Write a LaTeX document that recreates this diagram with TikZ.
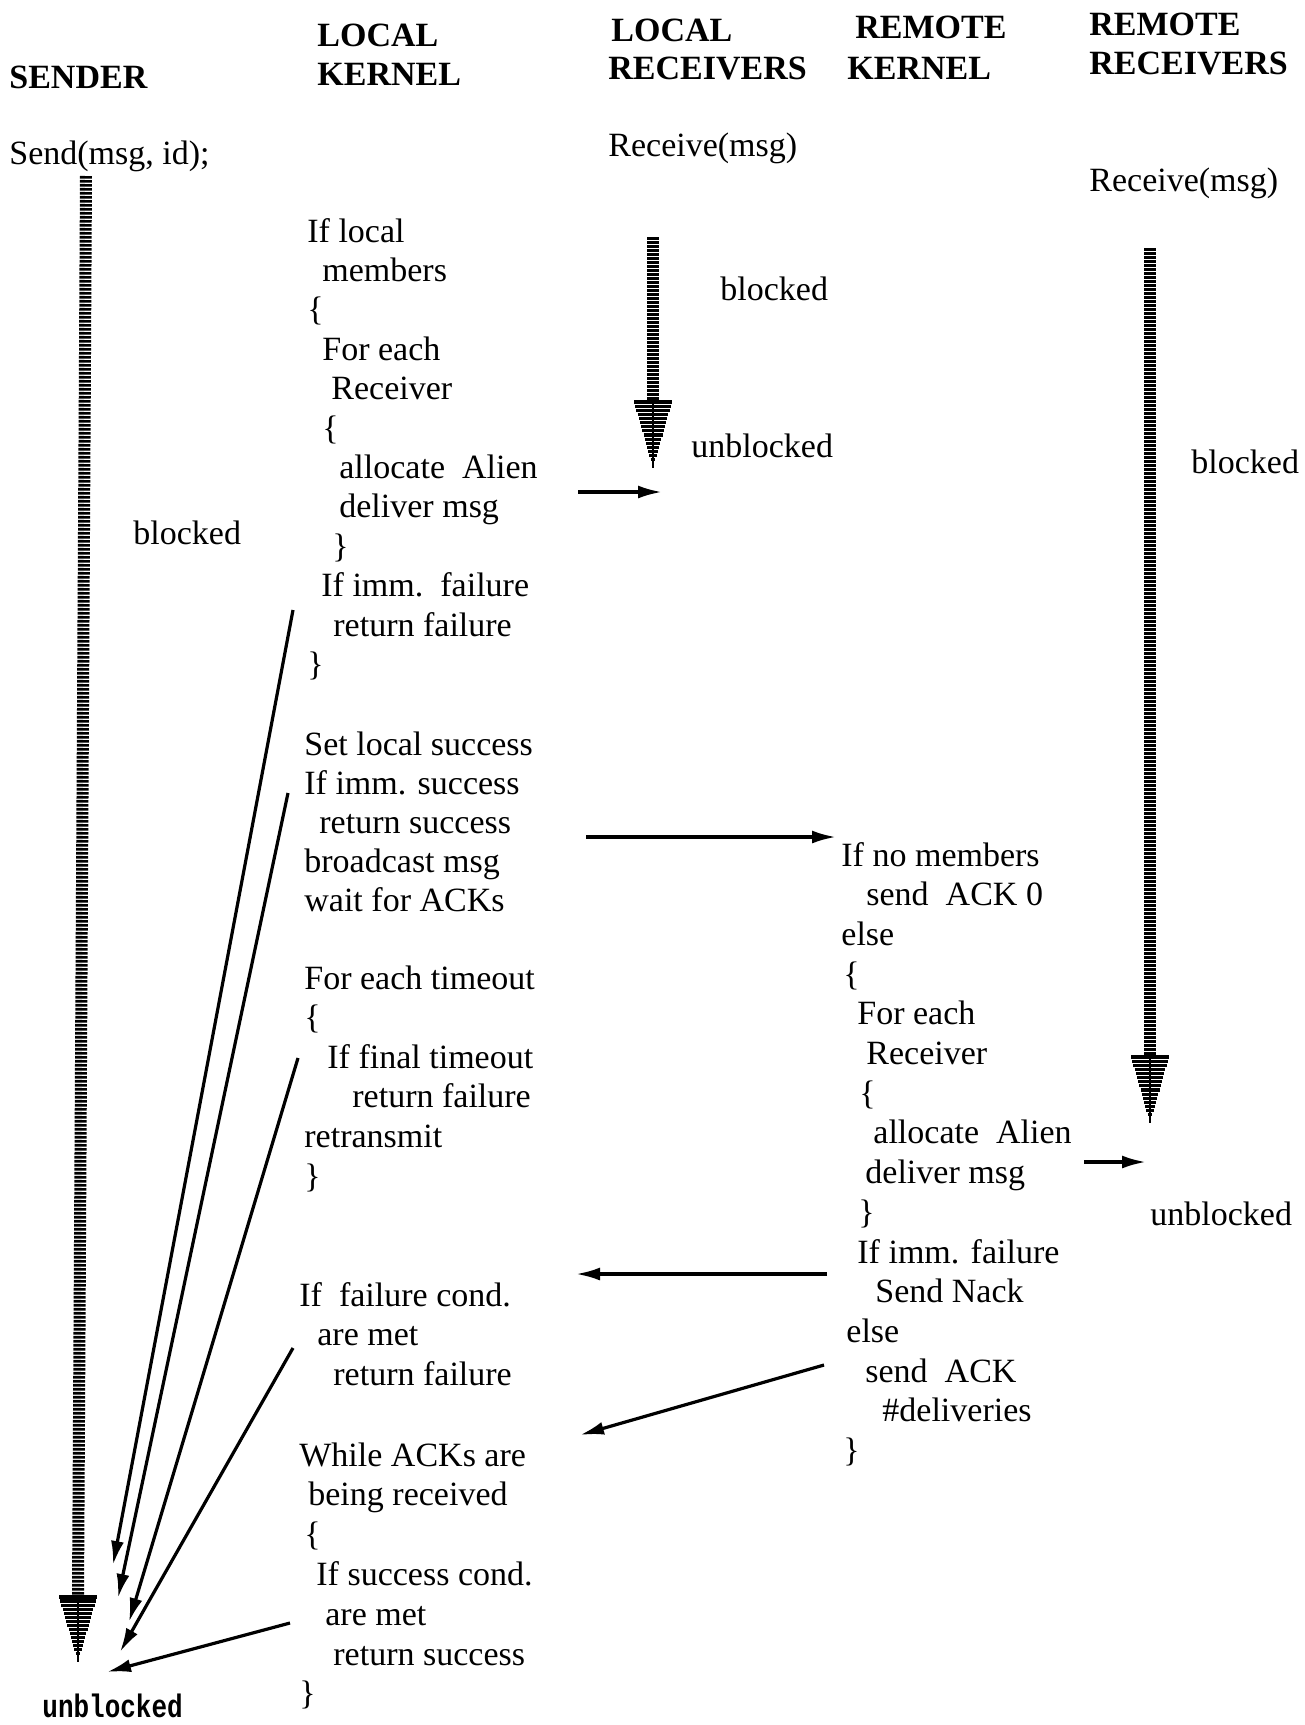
\documentclass[tikz,border=0pt]{standalone}
\usepackage{fontspec}
\setmainfont{Liberation Serif}
\newfontfamily\monob{Liberation Mono}
\usetikzlibrary{arrows.meta}
\newcommand\hatchhead[3]{% x, ytop, ytip
  \foreach \k in {0,...,15}{%
    \pgfmathsetmacro\hw{19*(1-\k/16)}%
    \draw[line width=1.6pt] ({#1-\hw},{#2+\k*(#3-#2)/16}) -- ({#1+\hw},{#2+\k*(#3-#2)/16});}%
  \draw[line width=1pt] (#1,#2) -- (#1,#3);}
\begin{document}
\begin{tikzpicture}[x=0.5pt,y=-0.5pt,
  txt/.style={anchor=base west,inner sep=0pt,font=\fontsize{17pt}{20pt}\selectfont},
  hdr/.style={anchor=base west,inner sep=0pt,font=\fontsize{17pt}{20pt}\selectfont\bfseries},
  mono/.style={anchor=base west,inner sep=0pt,font=\fontsize{13pt}{15pt}\monob\bfseries},
  flow/.style={line width=1.6pt,-{Latex[length=12pt,width=6.5pt]}},
  hatchshaft/.style={line width=6pt,dash pattern=on 1.3pt off 0.7pt},
]
\useasboundingbox (0,0) rectangle (1305,1725);

% headers
\node[hdr] (hS) at (9,88) {SENDER};
\node[hdr] (hLKa) at (317,46) {LOCAL};
\node[hdr] (hLKb) at (317,85) {KERNEL};
\node[hdr] (hLRa) at (611,41) {LOCAL};
\node[hdr] (hLRb) at (608,79) {RECEIVERS};
\node[hdr] (hRKa) at (855,38) {REMOTE};
\node[hdr] (hRKb) at (847,79) {KERNEL};
\node[hdr] (hRRa) at (1089,35) {REMOTE};
\node[hdr] (hRRb) at (1089,74) {RECEIVERS};

% top calls
\node[txt] (send) at (9,164) {Send(msg, id);};
\node[txt] (recvL) at (608,156) {Receive(msg)};
\node[txt] (recvR) at (1089,191) {Receive(msg)};

% state labels
\node[txt] (blkL) at (720,300) {blocked};
\node[txt] (ublkL) at (691,457) {unblocked};
\node[txt] (blkS) at (133,544) {blocked};
\node[txt] (blkR) at (1191,473) {blocked};
\node[txt] (ublkR) at (1150,1225) {unblocked};
\node[mono] (ublkS) at (42,1717) {\scalebox{1}[1.25]{unblocked}};

% local kernel block 1
\foreach \xx/\tt [count=\i from 0] in {307/If local, 322/members, 307/\{, 322/For each,
  331/Receiver, 322/\{, 339/allocate\ \ Alien, 339/deliver msg, 332/\}, 321/If imm.\ \ failure,
  333/return failure, 307/\}}
  \node[txt] (lka-\i) at ({\xx},{242+\i*39.4}) {\tt};

% local kernel block 2
\foreach \xx/\tt [count=\i from 0] in {304/Set local success, 304/If imm. success,
  319/return success, 304/broadcast msg, 304/wait for ACKs}
  \node[txt] (lkb-\i) at ({\xx},{755+\i*39.2}) {\tt};

% local kernel block 3
\foreach \xx/\tt [count=\i from 0] in {304/For each timeout, 304/\{, 327/If final timeout,
  352/return failure, 304/retransmit, 304/\}}
  \node[txt] (lkc-\i) at ({\xx},{989+\i*39.6}) {\tt};

% local kernel block 4
\foreach \xx/\tt [count=\i from 0] in {299/If\ \ failure cond., 317/are met, 333/return failure}
  \node[txt] (lkd-\i) at ({\xx},{1306+\i*39.6}) {\tt};

% local kernel block 5
\foreach \xx/\tt [count=\i from 0] in {299/While ACKs are, 308/being received, 304/\{,
  316/If success cond., 325/are met, 333/return success, 299/\}}
  \node[txt] (lke-\i) at ({\xx},{1466+\i*39.8}) {\tt};

% remote kernel block
\foreach \xx/\tt [count=\i from 0] in {841/If no members, 866/send\ \ ACK 0, 841/else, 843/\{,
  857/For each, 866/Receiver, 859/\{, 873/allocate\ \ Alien, 865/deliver msg, 858/\},
  857/If imm. failure, 875/Send Nack, 846/else, 865/send\ \ ACK, 882/\#deliveries, 843/\}}
  \node[txt] (rk-\i) at ({\xx},{866+\i*39.7}) {\tt};

% hatched blocking arrows
\coordinate (sTop) at (86,176);
\coordinate (sHead) at (78,1597);
\draw[hatchshaft] (sTop) -- (sHead);
\hatchhead{78}{1597}{1662}
\coordinate (lTop) at (653,237);
\coordinate (lHead) at (653,402);
\draw[hatchshaft] (lTop) -- (lHead);
\hatchhead{653}{402}{468}
\coordinate (rTop) at (1150,248);
\coordinate (rHead) at (1150,1057);
\draw[hatchshaft] (rTop) -- (rHead);
\hatchhead{1150}{1057}{1123}

% horizontal message arrows
\coordinate (d1s) at (578,492); \coordinate (d1e) at (662,492);
\draw[flow] (d1s) -- (d1e);
\coordinate (bcs) at (586,837); \coordinate (bce) at (836,837);
\draw[flow] (bcs) -- (bce);
\coordinate (d2s) at (1084,1162); \coordinate (d2e) at (1146,1162);
\draw[flow] (d2s) -- (d2e);
\coordinate (nks) at (827,1274); \coordinate (nke) at (576,1274);
\draw[flow] (nks) -- (nke);
\coordinate (aks) at (824,1365); \coordinate (ake) at (580,1435);
\draw[flow] (aks) -- (ake);

% returns to sender
\coordinate (ra) at (293,610);  \coordinate (ta) at (113,1565);
\coordinate (rb) at (288,793);  \coordinate (tb) at (118,1598);
\coordinate (rc) at (298,1058); \coordinate (tc) at (129,1622);
\coordinate (rd) at (293,1348); \coordinate (td) at (120,1652);
\coordinate (re) at (290,1623); \coordinate (te) at (107,1672);
\draw[flow] (ra) -- (ta);
\draw[flow] (rb) -- (tb);
\draw[flow] (rc) -- (tc);
\draw[flow] (rd) -- (td);
\draw[flow] (re) -- (te);
\end{tikzpicture}
\end{document}
